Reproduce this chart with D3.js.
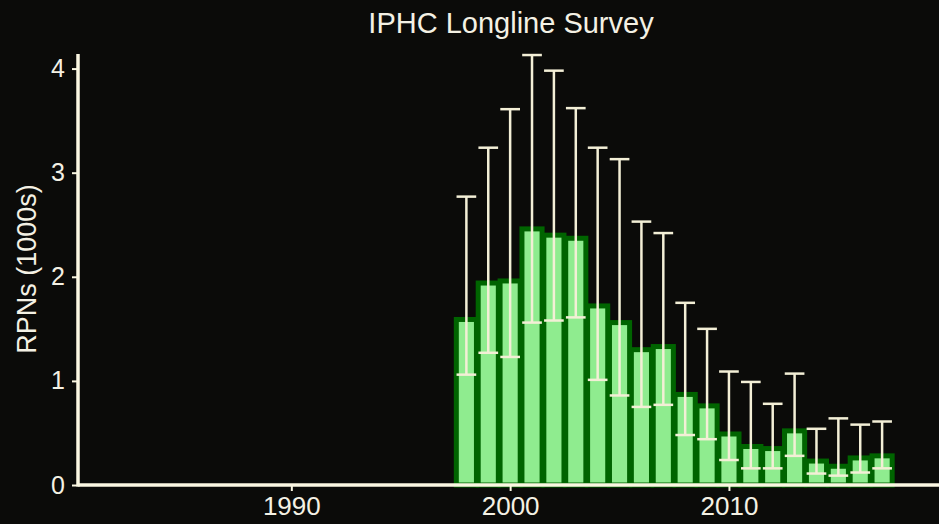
<!DOCTYPE html>
<html>
<head>
<meta charset="utf-8">
<script src="https://cdn.jsdelivr.net/npm/d3@7"></script>
<style>
  body { margin: 0; background: #0b0b09; }
  svg { display: block; }
  .tick text { font-family: "Liberation Sans", Arial, sans-serif; fill: #f4f1e4; }
</style>
</head>
<body>
<div id="chart"></div>
<script>
var years = [1998, 1999, 2000, 2001, 2002, 2003, 2004, 2005, 2006, 2007,
             2008, 2009, 2010, 2011, 2012, 2013, 2014, 2015, 2016, 2017];
var rpn   = [1.59, 1.94, 1.96, 2.46, 2.40, 2.37, 1.72, 1.56, 1.30, 1.33,
             0.87, 0.76, 0.49, 0.37, 0.35, 0.52, 0.23, 0.18, 0.26, 0.28];
var upper = [2.77, 3.24, 3.61, 4.13, 3.98, 3.62, 3.24, 3.13, 2.53, 2.42,
             1.75, 1.50, 1.09, 0.99, 0.78, 1.07, 0.54, 0.64, 0.58, 0.61];
var lower = [1.06, 1.27, 1.23, 1.56, 1.58, 1.61, 1.01, 0.86, 0.75, 0.77,
             0.48, 0.44, 0.24, 0.16, 0.16, 0.28, 0.11, 0.09, 0.12, 0.16];
var xTicks = [1990, 2000, 2010];
var yTicks = [0, 1, 2, 3, 4];

var svgWidth = 939;
var svgHeight = 524;
var cream = "#fbf7e2";

var data = years.map(function(y, i) {
  return { year: y, value: rpn[i], hi: upper[i], lo: lower[i] };
});

var svg = d3.select("#chart")
  .append("svg")
  .attr("width", svgWidth)
  .attr("height", svgHeight);

svg.append("rect")
  .attr("width", svgWidth)
  .attr("height", svgHeight)
  .attr("fill", "#0b0b09");

var x = d3.scaleLinear()
  .domain([1980.25, 2019.6])
  .range([78, 939]);

var y = d3.scaleLinear()
  .domain([0, 4.14])
  .range([485, 54]);

var barW = x(1990.92) - x(1990);

// bars
svg.append("g").selectAll("rect")
  .data(data)
  .enter()
  .append("rect")
  .attr("x", d => x(d.year) - barW / 2)
  .attr("y", d => y(d.value))
  .attr("width", barW)
  .attr("height", d => y(0) - y(d.value))
  .attr("fill", "#8fec8f")
  .attr("stroke", "#006400")
  .attr("stroke-width", 5);

// error bars
var capW = x(1990.9) - x(1990);
var err = svg.append("g")
  .attr("stroke", "#f3efd6")
  .attr("stroke-width", 2.5);

err.selectAll("line.v")
  .data(data)
  .enter()
  .append("line")
  .attr("class", "v")
  .attr("x1", d => x(d.year))
  .attr("x2", d => x(d.year))
  .attr("y1", d => y(d.lo))
  .attr("y2", d => y(d.hi));

err.selectAll("line.top")
  .data(data)
  .enter()
  .append("line")
  .attr("class", "top")
  .attr("x1", d => x(d.year) - capW / 2)
  .attr("x2", d => x(d.year) + capW / 2)
  .attr("y1", d => y(d.hi))
  .attr("y2", d => y(d.hi));

err.selectAll("line.bot")
  .data(data)
  .enter()
  .append("line")
  .attr("class", "bot")
  .attr("x1", d => x(d.year) - capW / 2)
  .attr("x2", d => x(d.year) + capW / 2)
  .attr("y1", d => y(d.lo))
  .attr("y2", d => y(d.lo));

// axes
var xAxis = svg.append("g")
  .attr("transform", `translate(0, ${y(0)})`)
  .call(d3.axisBottom(x).tickValues(xTicks).tickFormat(d3.format("d")).tickSize(6).tickPadding(6));

var yAxis = svg.append("g")
  .attr("transform", `translate(${x.range()[0]}, 0)`)
  .call(d3.axisLeft(y).tickValues(yTicks).tickFormat(d3.format("d")).tickSize(6).tickPadding(7));

xAxis.select(".domain").remove();
yAxis.select(".domain").remove();
xAxis.selectAll(".tick line").attr("stroke", cream).attr("stroke-width", 2);
yAxis.selectAll(".tick line").attr("stroke", cream).attr("stroke-width", 2);
xAxis.selectAll(".tick text").attr("font-size", "26px");
yAxis.selectAll(".tick text").attr("font-size", "25px");

svg.append("line")
  .attr("x1", x.range()[0])
  .attr("x2", svgWidth)
  .attr("y1", y(0))
  .attr("y2", y(0))
  .attr("stroke", cream)
  .attr("stroke-width", 3.5);

svg.append("line")
  .attr("x1", x.range()[0])
  .attr("x2", x.range()[0])
  .attr("y1", y.range()[1])
  .attr("y2", y(0) + 1.5)
  .attr("stroke", cream)
  .attr("stroke-width", 3.5);

// labels
svg.append("text")
  .attr("x", 511)
  .attr("y", 33)
  .attr("text-anchor", "middle")
  .attr("font-family", "Liberation Sans, Arial, sans-serif")
  .attr("font-size", "29px")
  .attr("fill", "#f4f1e4")
  .text("IPHC Longline Survey");

svg.append("text")
  .attr("transform", "translate(36, 269) rotate(-90)")
  .attr("text-anchor", "middle")
  .attr("font-family", "Liberation Sans, Arial, sans-serif")
  .attr("font-size", "27px")
  .attr("fill", "#f4f1e4")
  .text("RPNs (1000s)");
</script>
</body>
</html>
